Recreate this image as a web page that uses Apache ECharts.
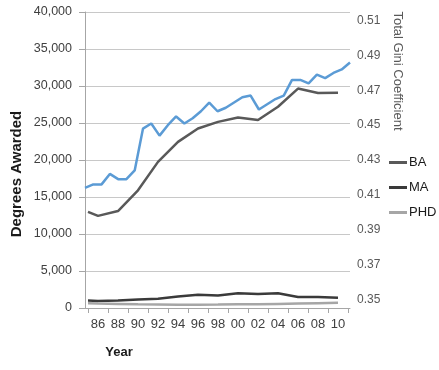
<!DOCTYPE html>
<html>
<head>
<meta charset="utf-8">
<script src="https://cdn.jsdelivr.net/npm/echarts@6/dist/echarts.min.js"></script>
<style>html,body{margin:0;padding:0;background:#fff}#c{width:439px;height:370px}</style>
</head>
<body>
<div id="c"></div>
<script>
// Degrees awarded (left axis)
var degreeYears = [1985, 1986, 1988, 1990, 1992, 1994, 1996, 1998, 2000, 2002, 2004, 2006, 2008, 2010];
var baValues  = [13000, 12450, 13100, 15900, 19750, 22450, 24250, 25150, 25750, 25400, 27200, 29650, 29050, 29100];
var maValues  = [1000, 950, 1000, 1150, 1250, 1550, 1800, 1700, 2000, 1900, 2000, 1500, 1500, 1400];
var phdValues = [650, 600, 550, 500, 480, 450, 450, 460, 500, 500, 550, 600, 650, 700];

// Total Gini coefficient (right axis)
var giniYears = [1986,1987,1988,1989,1990,1991,1992,1993,1994,1995,1996,1997,1998,1999,2000,2001,2002,2003,2004,2005,2006,2007,2008,2009,2010,2011,2012,2013,2014,2015,2016,2017,2018];
var giniValues = [0.414,0.416,0.416,0.422,0.419,0.419,0.424,0.448,0.451,0.444,0.450,0.455,0.451,0.454,0.458,0.463,0.458,0.460,0.463,0.466,0.467,0.459,0.462,0.465,0.467,0.476,0.476,0.474,0.479,0.477,0.480,0.482,0.486];

// Tick labels
var yearLabelValues = [1986,1988,1990,1992,1994,1996,1998,2000,2002,2004,2006,2008,2010];
var yearTickValues = [1985,1987,1989,1991,1993,1995,1997,1999,2001,2003,2005,2007,2009,2011];
var giniLabelValues = [0.35,0.37,0.39,0.41,0.43,0.45,0.47,0.49,0.51];

function pairs(xs, ys){ return xs.map(function(x,i){ return [x, ys[i]]; }); }

var FONT = 'Liberation Sans, Arial, sans-serif';
var chart = echarts.init(document.getElementById('c'), null, {renderer:'canvas'});
chart.setOption({
  animation: false,
  backgroundColor: '#ffffff',
  grid: {left: 85, right: 89, top: 12, bottom: 62},
  legend: {
    data: ['BA','MA','PHD'],
    orient: 'vertical',
    left: 384, top: 151,
    icon: 'rect', itemWidth: 18, itemHeight: 3, itemGap: 12,
    textStyle: {fontFamily: FONT, fontSize: 13, color: '#1a1a1a', padding: [0,0,0,-3]}
  },
  xAxis: [{
    type: 'value', min: 1984.7, max: 2011.2,
    axisLine: {show: true, lineStyle: {color: '#a6a6a6', width: 1}},
    axisTick: {show: true, length: 5, lineStyle: {color: '#a6a6a6'}, customValues: yearTickValues},
    axisLabel: {customValues: yearLabelValues, margin: 10, color: '#404040', fontFamily: FONT, fontSize: 13,
      formatter: function(v){ var s = String(Math.round(v) % 100); return s.length < 2 ? '0' + s : s; }},
    splitLine: {show: false}
  }, {
    type: 'value', min: 1986, max: 2018, show: false
  }],
  yAxis: [{
    type: 'value', min: 0, max: 40000, interval: 5000,
    axisLine: {show: true, lineStyle: {color: '#a6a6a6'}},
    axisTick: {show: true, length: 6, lineStyle: {color: '#a6a6a6'}},
    axisLabel: {color: '#404040', fontFamily: FONT, fontSize: 12.5, margin: 13,
      formatter: function(v){ return v.toLocaleString('en-US'); }},
    splitLine: {show: true, lineStyle: {color: '#c8c8c8', width: 1}}
  }, {
    type: 'value', min: 0.345, max: 0.515, position: 'right',
    axisLine: {show: false}, axisTick: {show: false},
    axisLabel: {customValues: giniLabelValues, color: '#595959', fontFamily: FONT, fontSize: 12, margin: 7,
      formatter: function(v){ return v.toFixed(2); }},
    splitLine: {show: false}
  }],
  graphic: [
    {type: 'text', x: 17, y: 174, rotation: Math.PI/2,
     style: {text: 'Degrees Awarded', x: 0, y: 0, align: 'center', verticalAlign: 'middle',
       font: 'bold 15px ' + FONT, fill: '#1a1a1a'}},
    {type: 'text', x: 119, y: 352,
     style: {text: 'Year', x: 0, y: 0, align: 'center', verticalAlign: 'middle',
       font: 'bold 13px ' + FONT, fill: '#1a1a1a'}},
    {type: 'text', x: 398, y: 71, rotation: -Math.PI/2,
     style: {text: 'Total Gini Coefficient', x: 0, y: 0, align: 'center', verticalAlign: 'middle',
       font: '13px ' + FONT, fill: '#595959'}}
  ],
  series: [
    {name: 'Gini', type: 'line', xAxisIndex: 1, yAxisIndex: 1, data: pairs(giniYears, giniValues),
     showSymbol: false, symbol: 'none', lineStyle: {color: '#5b9bd5', width: 2.5}, itemStyle: {color: '#5b9bd5'}},
    {name: 'BA', type: 'line', xAxisIndex: 0, yAxisIndex: 0, data: pairs(degreeYears, baValues),
     showSymbol: false, symbol: 'none', lineStyle: {color: '#595959', width: 2.5}, itemStyle: {color: '#595959'}},
    {name: 'MA', type: 'line', xAxisIndex: 0, yAxisIndex: 0, data: pairs(degreeYears, maValues),
     showSymbol: false, symbol: 'none', lineStyle: {color: '#3a3a3a', width: 2.5}, itemStyle: {color: '#3a3a3a'}},
    {name: 'PHD', type: 'line', xAxisIndex: 0, yAxisIndex: 0, data: pairs(degreeYears, phdValues),
     showSymbol: false, symbol: 'none', lineStyle: {color: '#a6a6a6', width: 2.5}, itemStyle: {color: '#a6a6a6'}}
  ]
});
</script>
</body>
</html>
